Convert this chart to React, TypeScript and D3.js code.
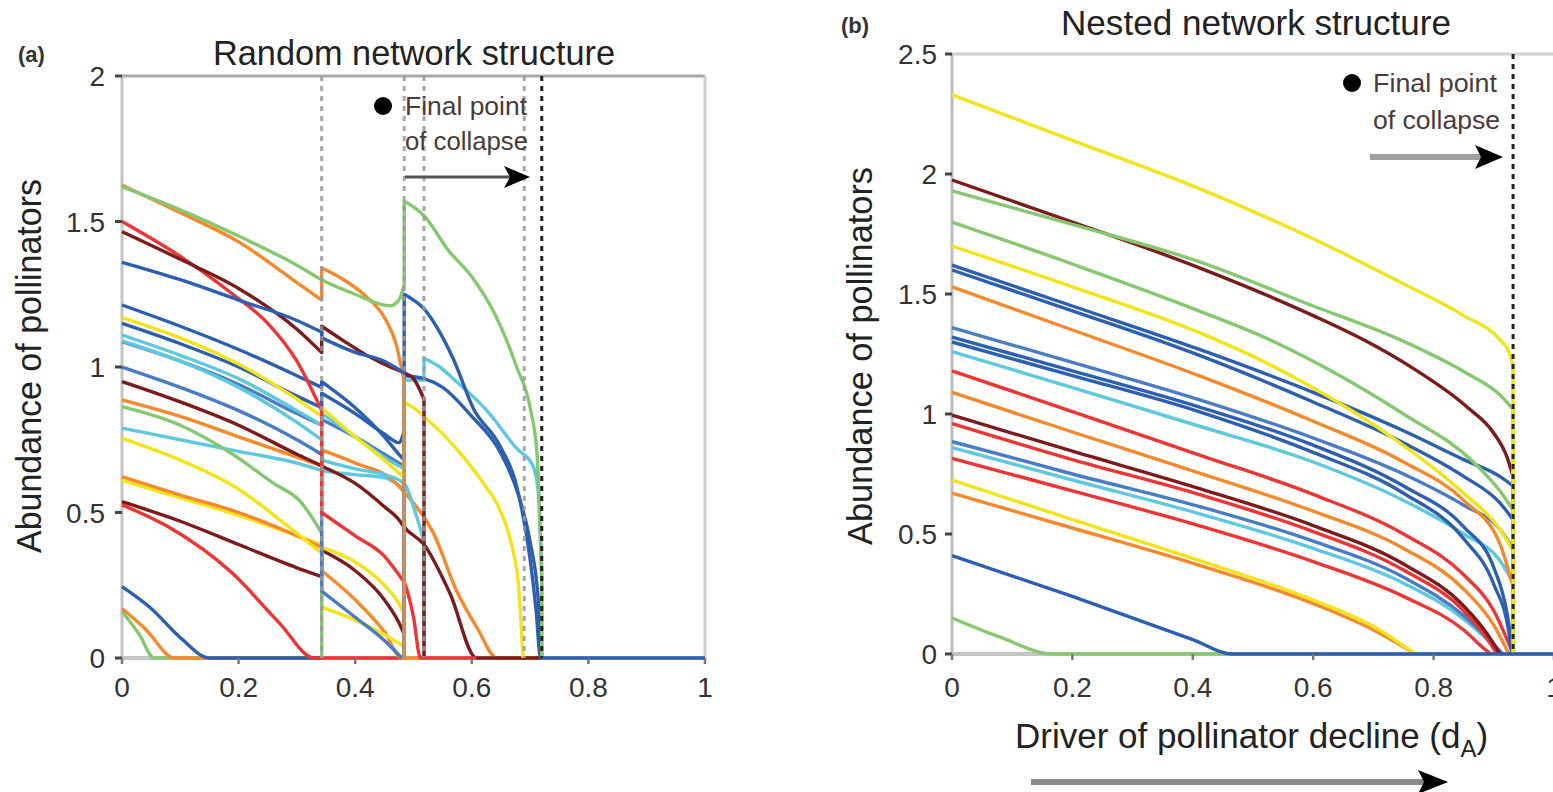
import React from 'react';
import * as d3 from 'd3';

type Pt = [number, number];
type Series = { c: string; p: Pt[] };

const W = 1553;
const H = 792;

// colours
const BL = '#2c5fb0';
const BL2 = '#4a7cc6';
const CY = '#5ec8de';
const GR = '#86c86f';
const YE = '#f3e41a';
const OR = '#f6892c';
const RE = '#ee3434';
const BR = '#7b1b1b';

// ticks
const xTicks = [0, 0.2, 0.4, 0.6, 0.8, 1];
const xTickLabels = ['0', '0.2', '0.4', '0.6', '0.8', '1'];
const yTicksA = [0, 0.5, 1, 1.5, 2];
const yTickLabelsA = ['0', '0.5', '1', '1.5', '2'];
const yTicksB = [0, 0.5, 1, 1.5, 2, 2.5];
const yTickLabelsB = ['0', '0.5', '1', '1.5', '2', '2.5'];

// collapse steps
const stepsA = [0.3425, 0.484, 0.518, 0.69];
const finalA = 0.72;
const finalB = 0.932;

// Panel (a): random network
const seriesA: Series[] = [
  { c: GR, p: [[0, 0.16], [0.03, 0.08], [0.055, 0], [0.3425, 0]] },
  { c: OR, p: [[0, 0.17], [0.04, 0.1], [0.09, 0], [0.3425, 0]] },
  { c: BL, p: [[0, 0.245], [0.05, 0.17], [0.1, 0.07], [0.15, 0], [0.3425, 0]] },
  { c: RE, p: [[0, 0.526], [0.08, 0.45], [0.19, 0.29], [0.27, 0.12], [0.33, 0], [0.484, 0]] },
  { c: BR, p: [[0, 0.537], [0.1, 0.47], [0.2, 0.39], [0.3, 0.31], [0.3425, 0.28], [0.3425, 0.37], [0.4, 0.3], [0.45, 0.2], [0.48, 0.1], [0.484, 0.08], [0.484, 0]] },
  { c: YE, p: [[0, 0.61], [0.1, 0.55], [0.2, 0.49], [0.3, 0.42], [0.3425, 0.39], [0.3425, 0.38], [0.4, 0.33], [0.45, 0.25], [0.477, 0.18], [0.484, 0.15], [0.484, 0]] },
  { c: OR, p: [[0, 0.623], [0.1, 0.56], [0.2, 0.5], [0.3, 0.42], [0.3425, 0.38], [0.3425, 0.3], [0.4, 0.2], [0.45, 0.09], [0.48, 0], [0.518, 0]] },
  { c: YE, p: [[0, 0.755], [0.1, 0.68], [0.2, 0.58], [0.28, 0.46], [0.3425, 0.36], [0.3425, 0.175], [0.4, 0.13], [0.45, 0.08], [0.484, 0.04], [0.484, 0]] },
  { c: CY, p: [[0, 0.79], [0.1, 0.75], [0.2, 0.71], [0.3, 0.67], [0.3425, 0.645], [0.4, 0.63], [0.45, 0.62], [0.47, 0.6], [0.484, 0.58], [0.484, 0]] },
  { c: GR, p: [[0, 0.864], [0.1, 0.8], [0.19, 0.7], [0.26, 0.6], [0.305, 0.54], [0.3425, 0.43], [0.3425, 0]] },
  { c: OR, p: [[0, 0.887], [0.1, 0.83], [0.2, 0.76], [0.3, 0.69], [0.3425, 0.66], [0.3425, 0.715], [0.4, 0.67], [0.465, 0.61], [0.484, 0.57], [0.505, 0.52], [0.534, 0.43], [0.574, 0.23], [0.61, 0.1], [0.643, 0], [0.72, 0]] },
  { c: BR, p: [[0, 0.95], [0.1, 0.88], [0.2, 0.8], [0.3, 0.7], [0.3425, 0.66], [0.4, 0.6], [0.45, 0.52], [0.477, 0.47], [0.484, 0.45], [0.518, 0.39], [0.563, 0.22], [0.608, 0], [0.72, 0]] },
  { c: BL2, p: [[0, 1.0], [0.1, 0.93], [0.2, 0.85], [0.3, 0.75], [0.3425, 0.7], [0.3425, 0.23], [0.4, 0.14], [0.45, 0.06], [0.48, 0]] },
  { c: BL2, p: [[0, 1.087], [0.1, 1.02], [0.2, 0.94], [0.3, 0.84], [0.3425, 0.8], [0.3425, 0.82], [0.4, 0.76], [0.45, 0.7], [0.475, 0.67], [0.484, 0.66], [0.484, 0]] },
  { c: CY, p: [[0, 1.09], [0.1, 1.02], [0.2, 0.93], [0.3, 0.81], [0.3425, 0.75], [0.3425, 0.68], [0.4, 0.65], [0.45, 0.63], [0.484, 0.6], [0.5, 0.52], [0.518, 0.4], [0.518, 0]] },
  { c: CY, p: [[0, 1.11], [0.1, 1.04], [0.2, 0.96], [0.3, 0.85], [0.3425, 0.8], [0.3425, 0.84], [0.4, 0.76], [0.45, 0.69], [0.484, 0.65], [0.484, 0.955], [0.518, 0.955], [0.518, 1.03], [0.545, 1.0], [0.568, 0.96], [0.626, 0.85], [0.677, 0.72], [0.705, 0.66], [0.714, 0.57], [0.72, 0.3], [0.72, 0]] },
  { c: BL, p: [[0, 1.15], [0.1, 1.08], [0.2, 1.0], [0.3, 0.9], [0.3425, 0.86], [0.3425, 0.91], [0.4, 0.84], [0.45, 0.77], [0.475, 0.74], [0.484, 0.78], [0.484, 0]] },
  { c: YE, p: [[0, 1.17], [0.1, 1.1], [0.2, 1.01], [0.3, 0.89], [0.3425, 0.83], [0.3425, 0.86], [0.4, 0.76], [0.45, 0.68], [0.484, 0.62], [0.484, 0.88], [0.5, 0.86], [0.518, 0.83], [0.55, 0.77], [0.59, 0.68], [0.62, 0.6], [0.648, 0.51], [0.667, 0.4], [0.68, 0.25], [0.688, 0]] },
  { c: BL, p: [[0, 1.213], [0.1, 1.14], [0.2, 1.06], [0.3, 0.97], [0.3425, 0.93], [0.3425, 0.95], [0.4, 0.86], [0.45, 0.76], [0.475, 0.7], [0.484, 0.68], [0.484, 0.97], [0.518, 0.96], [0.55, 0.93], [0.6, 0.83], [0.648, 0.71], [0.68, 0.56], [0.7, 0.4], [0.714, 0.2], [0.72, 0]] },
  { c: RE, p: [[0, 1.5], [0.1, 1.38], [0.19, 1.25], [0.25, 1.15], [0.3, 1.02], [0.3425, 0.85], [0.3425, 0.5], [0.4, 0.42], [0.45, 0.35], [0.477, 0.28], [0.484, 0.26], [0.5, 0.14], [0.512, 0], [0.608, 0]] },
  { c: BR, p: [[0, 1.465], [0.1, 1.37], [0.2, 1.27], [0.3, 1.13], [0.3425, 1.05], [0.3425, 1.14], [0.38, 1.09], [0.42, 1.04], [0.46, 1.0], [0.484, 0.98], [0.5, 0.96], [0.518, 0.89], [0.518, 0]] },
  { c: OR, p: [[0, 1.625], [0.1, 1.53], [0.2, 1.43], [0.3, 1.29], [0.3425, 1.23], [0.3425, 1.34], [0.38, 1.3], [0.42, 1.24], [0.45, 1.17], [0.47, 1.08], [0.484, 0.95], [0.484, 0]] },
  { c: BL, p: [[0, 1.36], [0.1, 1.3], [0.2, 1.23], [0.3, 1.16], [0.3425, 1.12], [0.3425, 1.1], [0.4, 1.05], [0.45, 1.02], [0.484, 0.98], [0.484, 1.25], [0.5, 1.23], [0.518, 1.2], [0.545, 1.12], [0.57, 1.02], [0.602, 0.86], [0.648, 0.73], [0.677, 0.59], [0.7, 0.34], [0.71, 0.17], [0.718, 0], [1, 0]] },
  { c: GR, p: [[0, 1.62], [0.1, 1.54], [0.2, 1.45], [0.3, 1.35], [0.3425, 1.3], [0.4, 1.25], [0.46, 1.21], [0.475, 1.23], [0.484, 1.28], [0.484, 1.57], [0.5, 1.55], [0.518, 1.52], [0.56, 1.4], [0.6, 1.31], [0.64, 1.18], [0.677, 1.0], [0.7, 0.86], [0.712, 0.7], [0.72, 0.25], [0.72, 0]] },
];

// Panel (b): nested network
const seriesB: Series[] = [
  { c: GR, p: [[0, 0.15], [0.08, 0.07], [0.168, 0], [0.465, 0]] },
  { c: OR, p: [[0, 0.67], [0.2, 0.525], [0.41, 0.37], [0.6, 0.21], [0.7, 0.1], [0.77, 0]] },
  { c: YE, p: [[0, 0.725], [0.2, 0.56], [0.41, 0.39], [0.6, 0.225], [0.7, 0.115], [0.77, 0]] },
  { c: RE, p: [[0, 0.815], [0.2, 0.68], [0.41, 0.535], [0.6, 0.385], [0.75, 0.24], [0.85, 0.1], [0.885, 0.02], [0.895, 0]] },
  { c: CY, p: [[0, 0.86], [0.2, 0.725], [0.41, 0.585], [0.6, 0.44], [0.75, 0.295], [0.85, 0.145], [0.9, 0.03], [0.91, 0]] },
  { c: BL2, p: [[0, 0.885], [0.2, 0.75], [0.41, 0.615], [0.6, 0.47], [0.75, 0.32], [0.85, 0.16], [0.9, 0.04], [0.915, 0]] },
  { c: RE, p: [[0, 0.96], [0.2, 0.81], [0.41, 0.665], [0.6, 0.51], [0.75, 0.35], [0.85, 0.18], [0.89, 0.06], [0.905, 0]] },
  { c: BR, p: [[0, 0.995], [0.2, 0.845], [0.41, 0.69], [0.6, 0.535], [0.75, 0.375], [0.85, 0.2], [0.89, 0.08], [0.91, 0]] },
  { c: OR, p: [[0, 1.09], [0.2, 0.925], [0.41, 0.755], [0.6, 0.595], [0.75, 0.44], [0.85, 0.27], [0.9, 0.12], [0.925, 0]] },
  { c: RE, p: [[0, 1.18], [0.2, 1.01], [0.41, 0.83], [0.6, 0.665], [0.75, 0.5], [0.85, 0.33], [0.9, 0.18], [0.932, 0]] },
  { c: CY, p: [[0, 1.26], [0.2, 1.11], [0.41, 0.95], [0.6, 0.8], [0.75, 0.64], [0.85, 0.5], [0.91, 0.39], [0.932, 0.3], [0.932, 0]] },
  { c: BL, p: [[0, 1.3], [0.2, 1.16], [0.41, 1.01], [0.6, 0.84], [0.75, 0.67], [0.85, 0.48], [0.9, 0.29], [0.925, 0.09], [0.93, 0]] },
  { c: BL, p: [[0, 1.32], [0.2, 1.18], [0.41, 1.03], [0.6, 0.87], [0.75, 0.7], [0.85, 0.53], [0.9, 0.36], [0.922, 0.17], [0.932, 0]] },
  { c: BL2, p: [[0, 1.36], [0.2, 1.215], [0.41, 1.06], [0.6, 0.9], [0.75, 0.75], [0.85, 0.62], [0.91, 0.52], [0.932, 0.44], [0.932, 0]] },
  { c: OR, p: [[0, 1.53], [0.2, 1.35], [0.41, 1.16], [0.6, 0.97], [0.75, 0.8], [0.85, 0.64], [0.91, 0.46], [0.932, 0.28], [0.932, 0]] },
  { c: BL, p: [[0, 1.6], [0.2, 1.43], [0.41, 1.245], [0.6, 1.05], [0.75, 0.88], [0.85, 0.74], [0.91, 0.63], [0.932, 0.56], [0.932, 0]] },
  { c: BL, p: [[0, 1.62], [0.2, 1.45], [0.41, 1.27], [0.6, 1.09], [0.75, 0.93], [0.85, 0.81], [0.91, 0.74], [0.932, 0.7], [0.932, 0]] },
  { c: YE, p: [[0, 1.7], [0.2, 1.53], [0.41, 1.34], [0.5, 1.24], [0.578, 1.14], [0.744, 0.88], [0.85, 0.67], [0.91, 0.52], [0.932, 0.43], [0.932, 0]] },
  { c: GR, p: [[0, 1.8], [0.2, 1.625], [0.41, 1.43], [0.523, 1.315], [0.611, 1.205], [0.75, 1.0], [0.866, 0.8], [0.91, 0.68], [0.932, 0.6], [0.932, 0]] },
  { c: BR, p: [[0, 1.975], [0.2, 1.8], [0.41, 1.61], [0.6, 1.41], [0.683, 1.31], [0.766, 1.19], [0.855, 1.03], [0.9, 0.92], [0.922, 0.82], [0.932, 0.74], [0.932, 0]] },
  { c: GR, p: [[0, 1.93], [0.2, 1.79], [0.41, 1.635], [0.6, 1.45], [0.744, 1.31], [0.855, 1.17], [0.91, 1.08], [0.932, 1.02], [0.932, 0]] },
  { c: YE, p: [[0, 2.33], [0.2, 2.14], [0.41, 1.94], [0.6, 1.73], [0.744, 1.55], [0.85, 1.41], [0.91, 1.31], [0.925, 1.26], [0.932, 1.2], [0.932, 0]] },
  { c: BL, p: [[0, 0.41], [0.2, 0.24], [0.4, 0.06], [0.465, 0], [1, 0]] },
];

const FONT = '"Liberation Sans", Arial, Helvetica, sans-serif';

function buildPath(points: Pt[], x: d3.ScaleLinear<number, number>, y: d3.ScaleLinear<number, number>) {
  const segs: Pt[][] = [];
  let cur: Pt[] = [points[0]];
  for (let i = 1; i < points.length; i++) {
    const p = points[i];
    if (p[0] === cur[cur.length - 1][0]) {
      segs.push(cur);
      cur = [p];
    } else cur.push(p);
  }
  segs.push(cur);
  const line = d3
    .line<Pt>()
    .x((d) => x(d[0]))
    .y((d) => y(d[1]))
    .curve(d3.curveMonotoneX);
  let d = '';
  segs.forEach((s, i) => {
    let sp = s.length > 1 ? (line(s) as string) : `M${x(s[0][0])},${y(s[0][1])}`;
    if (i > 0) sp = 'L' + sp.slice(1);
    d += sp;
  });
  return d;
}

function Arrow({ x1, x2, y, w, color, head, hh }: { x1: number; x2: number; y: number; w: number; color: string; head: number; hh: number }) {
  return (
    <g>
      <line x1={x1} x2={x2 - head * 0.6} y1={y} y2={y} stroke={color} strokeWidth={w} />
      <polygon
        points={`${x2 - head},${y - hh} ${x2},${y} ${x2 - head},${y + hh} ${x2 - head + 6},${y}`}
        fill="#000"
      />
    </g>
  );
}

export default function App() {
  const xA = d3.scaleLinear().domain([0, 1]).range([122, 705]);
  const yA = d3.scaleLinear().domain([0, 2]).range([658, 76]);
  const xB = d3.scaleLinear().domain([0, 1]).range([952, 1554]);
  const yB = d3.scaleLinear().domain([0, 2.5]).range([654, 54]);

  const lw = 3.4;

  return (
    <svg
      width={W}
      height={H}
      style={{ position: 'absolute', left: 0, top: 0, background: '#fff' }}
      fontFamily={FONT}
    >
      <rect x={0} y={0} width={W} height={H} fill="#fff" />

      {/* ===== Panel (a) ===== */}
      <text x={18} y={62} fontSize={22} fontWeight="bold" fill="#333">(a)</text>
      <text x={414} y={65} fontSize={35} textAnchor="middle" fill="#222" textLength={402} lengthAdjust="spacingAndGlyphs">
        Random network structure
      </text>
      <text
        transform={`translate(41,366) rotate(-90)`}
        fontSize={35}
        textAnchor="middle"
        fill="#222"
        textLength={374}
        lengthAdjust="spacingAndGlyphs"
      >
        Abundance of pollinators
      </text>

      {/* frame */}
      <line x1={xA(0)} x2={xA(1)} y1={yA(2)} y2={yA(2)} stroke="#a8a8a8" strokeWidth={3} />
      <line x1={xA(1)} x2={xA(1)} y1={yA(2)} y2={yA(0)} stroke="#cfcfcf" strokeWidth={3} />
      <line x1={xA(0)} x2={xA(0)} y1={yA(2)} y2={yA(0)} stroke="#c4c4c4" strokeWidth={3} />
      <line x1={xA(0)} x2={xA(1)} y1={yA(0)} y2={yA(0)} stroke="#c4c4c4" strokeWidth={4} />

      {seriesA.map((s, i) => (
        <path key={'a' + i} d={buildPath(s.p, xA, yA)} fill="none" stroke={s.c} strokeWidth={lw} strokeLinejoin="round" />
      ))}

      {stepsA.map((v, i) => (
        <line key={'sa' + i} x1={xA(v)} x2={xA(v)} y1={yA(2)} y2={yA(0)} stroke="#9a9a9a" strokeWidth={3} strokeDasharray="5,5" opacity={0.85} />
      ))}
      <line x1={xA(finalA)} x2={xA(finalA)} y1={yA(2)} y2={yA(0)} stroke="#222" strokeWidth={3} strokeDasharray="5,5" />

      {/* ticks a */}
      {yTicksA.map((v, i) => (
        <g key={'yta' + i}>
          <line x1={xA(0) - 7} x2={xA(0)} y1={yA(v)} y2={yA(v)} stroke="#444" strokeWidth={3} />
          <text x={105} y={yA(v) + 10} fontSize={28} textAnchor="end" fill="#333">{yTickLabelsA[i]}</text>
        </g>
      ))}
      {xTicks.map((v, i) => (
        <g key={'xta' + i}>
          <line x1={xA(v)} x2={xA(v)} y1={yA(0)} y2={yA(0) + 6} stroke="#777" strokeWidth={2.5} />
          <text x={xA(v)} y={697} fontSize={28} textAnchor="middle" fill="#333">{xTickLabels[i]}</text>
        </g>
      ))}

      {/* legend a */}
      <circle cx={383} cy={106} r={9} fill="#000" />
      <text x={405} y={115} fontSize={26} fill="#4a3a3a" textLength={122} lengthAdjust="spacingAndGlyphs">Final point</text>
      <text x={405} y={150} fontSize={26} fill="#4a3a3a" textLength={123} lengthAdjust="spacingAndGlyphs">of collapse</text>
      <Arrow x1={405} x2={530} y={177} w={3} color="#555" head={26} hh={11} />

      {/* ===== Panel (b) ===== */}
      <text x={841} y={33} fontSize={22} fontWeight="bold" fill="#333">(b)</text>
      <text x={1256} y={35} fontSize={35} textAnchor="middle" fill="#222" textLength={390} lengthAdjust="spacingAndGlyphs">
        Nested network structure
      </text>
      <text
        transform={`translate(872,356) rotate(-90)`}
        fontSize={35}
        textAnchor="middle"
        fill="#222"
        textLength={378}
        lengthAdjust="spacingAndGlyphs"
      >
        Abundance of pollinators
      </text>

      <line x1={xB(0)} x2={W} y1={yB(2.5)} y2={yB(2.5)} stroke="#cfcfcf" strokeWidth={3} />
      <line x1={xB(0)} x2={xB(0)} y1={yB(2.5)} y2={yB(0)} stroke="#bdbdbd" strokeWidth={3} />
      <line x1={xB(0)} x2={W} y1={yB(0)} y2={yB(0)} stroke="#c4c4c4" strokeWidth={4} />

      {seriesB.map((s, i) => (
        <path key={'b' + i} d={buildPath(s.p, xB, yB)} fill="none" stroke={s.c} strokeWidth={lw} strokeLinejoin="round" />
      ))}

      <line x1={xB(finalB)} x2={xB(finalB)} y1={yB(2.5)} y2={yB(0)} stroke="#222" strokeWidth={3} strokeDasharray="5,5" />

      {yTicksB.map((v, i) => (
        <g key={'ytb' + i}>
          <line x1={xB(0) - 7} x2={xB(0)} y1={yB(v)} y2={yB(v)} stroke="#444" strokeWidth={3} />
          <text x={937} y={yB(v) + 10} fontSize={28} textAnchor="end" fill="#333">{yTickLabelsB[i]}</text>
        </g>
      ))}
      {xTicks.map((v, i) => (
        <g key={'xtb' + i}>
          <line x1={xB(v)} x2={xB(v)} y1={yB(0)} y2={yB(0) + 6} stroke="#777" strokeWidth={2.5} />
          <text x={xB(v)} y={697} fontSize={28} textAnchor="middle" fill="#333">{xTickLabels[i]}</text>
        </g>
      ))}

      {/* legend b */}
      <circle cx={1352} cy={83} r={9} fill="#000" />
      <text x={1373} y={92} fontSize={26} fill="#4a3a3a" textLength={124} lengthAdjust="spacingAndGlyphs">Final point</text>
      <text x={1373} y={129} fontSize={26} fill="#4a3a3a" textLength={127} lengthAdjust="spacingAndGlyphs">of collapse</text>
      <Arrow x1={1370} x2={1503} y={157} w={6} color="#a0a0a0" head={28} hh={12} />

      {/* x label b */}
      <text x={1015} y={748} fontSize={35} fill="#222">
        Driver of pollinator decline (d
        <tspan fontSize={24} dy={9}>A</tspan>
        <tspan dy={-9}>)</tspan>
      </text>
      <Arrow x1={1031} x2={1448} y={782} w={6} color="#8a8a8a" head={30} hh={12} />
    </svg>
  );
}
